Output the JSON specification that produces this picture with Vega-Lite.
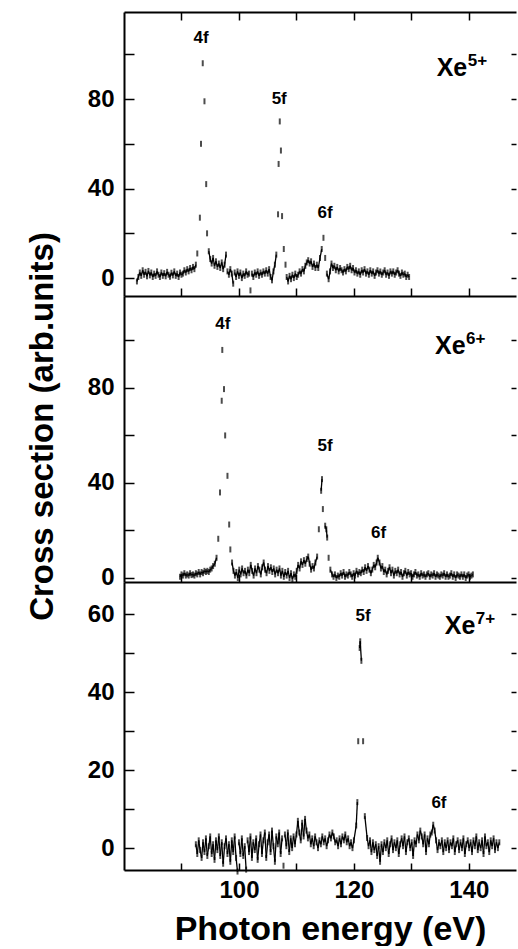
{
  "$schema": "https://vega.github.io/schema/vega-lite/v6.json",
  "padding": {"left": 26, "top": 11, "right": 0, "bottom": 0},
  "spacing": 0,
  "bounds": "flush",
  "config": {
    "view": {"stroke": null},
    "axis": {"labelFont": "Liberation Sans", "labelFontWeight": "bold", "titleFont": "Liberation Sans", "titleFontWeight": "bold", "domainColor": "black", "tickColor": "black", "labelColor": "black", "titleColor": "black", "grid": false, "labelFlush": false, "labelOverlap": false},
    "text": {"font": "Liberation Sans", "fontWeight": "bold", "color": "black"}
  },
  "datasets": {
    "xe5": [
      {"e":82.25,"s":-1.5},{"e":82.5,"s":0.5},{"e":82.75,"s":2.5},{"e":83,"s":1},{"e":83.25,"s":3.5},{"e":83.5,"s":1.5},{"e":83.75,"s":2.8},{"e":84,"s":0.8},{"e":84.25,"s":3.2},{"e":84.5,"s":1.2},{"e":84.75,"s":2.5},{"e":85,"s":0.5},{"e":85.25,"s":2},{"e":85.5,"s":1},{"e":85.75,"s":3},{"e":86,"s":1.5},{"e":86.25,"s":0.5},{"e":86.5,"s":2.5},{"e":86.75,"s":1},{"e":87,"s":2.2},{"e":87.25,"s":0.8},{"e":87.5,"s":2.8},{"e":87.75,"s":1.5},{"e":88,"s":0.6},{"e":88.25,"s":2.4},{"e":88.5,"s":1.2},{"e":88.75,"s":3},{"e":89,"s":1},{"e":89.25,"s":2},{"e":89.5,"s":0.5},{"e":89.75,"s":2.5},{"e":90,"s":1.5},{"e":90.25,"s":2},{"e":90.5,"s":3.5},{"e":90.75,"s":2.5},{"e":91,"s":4},{"e":91.25,"s":3},{"e":91.5,"s":4.5},{"e":91.75,"s":3.5},{"e":92,"s":5},{"e":92.25,"s":4},{"e":92.5,"s":6},{"e":92.75,"s":11},{"e":93.2,"s":27},{"e":93.4,"s":60},{"e":93.7,"s":96},{"e":94,"s":79},{"e":94.3,"s":42},{"e":94.45,"s":20},{"e":94.75,"s":12},{"e":95,"s":8.5},{"e":95.25,"s":6.5},{"e":95.5,"s":9},{"e":95.75,"s":5.5},{"e":96,"s":7.5},{"e":96.25,"s":5},{"e":96.5,"s":6.5},{"e":96.75,"s":4.5},{"e":97,"s":7},{"e":97.25,"s":4},{"e":97.5,"s":6},{"e":97.75,"s":10.5},{"e":98,"s":3},{"e":98.25,"s":1.5},{"e":98.5,"s":4},{"e":98.75,"s":2},{"e":99,"s":-2.5},{"e":99.25,"s":2.5},{"e":99.5,"s":0.5},{"e":99.75,"s":3},{"e":100,"s":1},{"e":100.25,"s":2.5},{"e":100.5,"s":0},{"e":100.75,"s":2},{"e":101,"s":1},{"e":101.25,"s":3},{"e":101.5,"s":1.5},{"e":101.75,"s":2},{"e":102,"s":-5.5},{"e":102.25,"s":2},{"e":102.5,"s":0.5},{"e":102.75,"s":2.5},{"e":103,"s":1.5},{"e":103.25,"s":3},{"e":103.5,"s":1},{"e":103.75,"s":2.5},{"e":104,"s":1.5},{"e":104.25,"s":3},{"e":104.5,"s":2},{"e":104.75,"s":3.5},{"e":105,"s":2},{"e":105.25,"s":4},{"e":105.5,"s":0.5},{"e":105.75,"s":-1},{"e":106,"s":3},{"e":106.25,"s":6},{"e":106.5,"s":10.5},{"e":106.8,"s":28.5},{"e":106.9,"s":51},{"e":107.1,"s":70},{"e":107.3,"s":57},{"e":107.5,"s":27.7},{"e":107.8,"s":13},{"e":108.1,"s":6},{"e":108.3,"s":0.5},{"e":108.55,"s":-1.5},{"e":108.8,"s":1},{"e":109.05,"s":-0.5},{"e":109.3,"s":1.5},{"e":109.55,"s":0},{"e":109.8,"s":2},{"e":110.05,"s":0.5},{"e":110.3,"s":1.5},{"e":110.55,"s":3},{"e":110.8,"s":2},{"e":111.05,"s":4},{"e":111.3,"s":3},{"e":111.55,"s":5.5},{"e":111.8,"s":7},{"e":112.05,"s":8},{"e":112.3,"s":6.5},{"e":112.55,"s":7.5},{"e":112.8,"s":5},{"e":113.05,"s":6.5},{"e":113.3,"s":4.5},{"e":113.55,"s":6},{"e":113.8,"s":4.5},{"e":114.1,"s":9},{"e":114.4,"s":13},{"e":114.7,"s":18},{"e":115,"s":9},{"e":115.3,"s":2},{"e":115.6,"s":-0.5},{"e":115.85,"s":3},{"e":116.1,"s":6.5},{"e":116.35,"s":4.5},{"e":116.6,"s":5.5},{"e":116.85,"s":3.5},{"e":117.1,"s":5},{"e":117.35,"s":3},{"e":117.6,"s":4.5},{"e":117.85,"s":3.5},{"e":118.1,"s":2.5},{"e":118.35,"s":4},{"e":118.6,"s":3},{"e":118.85,"s":5},{"e":119.1,"s":4},{"e":119.35,"s":5.5},{"e":119.6,"s":3.5},{"e":119.85,"s":4.5},{"e":120.1,"s":2.5},{"e":120.35,"s":3.5},{"e":120.6,"s":2},{"e":120.85,"s":3},{"e":121.1,"s":1.5},{"e":121.35,"s":3.5},{"e":121.6,"s":2.5},{"e":121.85,"s":4},{"e":122.1,"s":2},{"e":122.35,"s":3},{"e":122.6,"s":1.5},{"e":122.85,"s":3.5},{"e":123.1,"s":2},{"e":123.35,"s":3},{"e":123.6,"s":1},{"e":123.85,"s":2.5},{"e":124.1,"s":3.5},{"e":124.35,"s":2},{"e":124.6,"s":3},{"e":124.85,"s":1.5},{"e":125.1,"s":2.5},{"e":125.35,"s":3.5},{"e":125.6,"s":1.5},{"e":125.85,"s":2.5},{"e":126.1,"s":1},{"e":126.35,"s":3},{"e":126.6,"s":2},{"e":126.85,"s":3},{"e":127.1,"s":1.5},{"e":127.35,"s":2.5},{"e":127.6,"s":3.5},{"e":127.85,"s":2},{"e":128.1,"s":1},{"e":128.35,"s":2.5},{"e":128.6,"s":1.5},{"e":128.85,"s":2},{"e":129.1,"s":0.5},{"e":129.35,"s":1.5},{"e":129.6,"s":0.5}
    ],
    "xe6": [
      {"e":89.75,"s":0.5},{"e":90,"s":1.5},{"e":90.25,"s":1},{"e":90.5,"s":2},{"e":90.75,"s":1},{"e":91,"s":1.5},{"e":91.25,"s":1},{"e":91.5,"s":2},{"e":91.75,"s":1.2},{"e":92,"s":1.5},{"e":92.25,"s":1},{"e":92.5,"s":2},{"e":92.75,"s":1.5},{"e":93,"s":2.5},{"e":93.25,"s":1.5},{"e":93.5,"s":2.5},{"e":93.75,"s":2},{"e":94,"s":3},{"e":94.25,"s":2.5},{"e":94.5,"s":3},{"e":94.75,"s":2.5},{"e":95,"s":3.5},{"e":95.25,"s":4},{"e":95.5,"s":5},{"e":95.8,"s":6},{"e":96.1,"s":8.5},{"e":96.4,"s":16.5},{"e":96.7,"s":36},{"e":97,"s":74.6},{"e":97.1,"s":96},{"e":97.4,"s":79.5},{"e":97.6,"s":60},{"e":98,"s":43},{"e":98.3,"s":22.5},{"e":98.5,"s":12},{"e":98.8,"s":6.5},{"e":99.05,"s":3},{"e":99.3,"s":1},{"e":99.55,"s":2.5},{"e":99.8,"s":0},{"e":100.05,"s":3.5},{"e":100.3,"s":1.5},{"e":100.55,"s":4},{"e":100.8,"s":2},{"e":101.05,"s":3},{"e":101.3,"s":1},{"e":101.55,"s":3.5},{"e":101.8,"s":2},{"e":102.05,"s":5.5},{"e":102.3,"s":3},{"e":102.55,"s":1},{"e":102.8,"s":4},{"e":103.05,"s":2},{"e":103.3,"s":5},{"e":103.55,"s":3.5},{"e":103.8,"s":1.5},{"e":104.05,"s":4.5},{"e":104.3,"s":6.5},{"e":104.55,"s":3.5},{"e":104.8,"s":2},{"e":105.05,"s":5},{"e":105.3,"s":3},{"e":105.55,"s":4.5},{"e":105.8,"s":2.5},{"e":106.05,"s":4},{"e":106.3,"s":1.5},{"e":106.55,"s":3.5},{"e":106.8,"s":2},{"e":107.05,"s":4},{"e":107.3,"s":1},{"e":107.55,"s":3},{"e":107.8,"s":0.5},{"e":108.05,"s":2.5},{"e":108.3,"s":1},{"e":108.55,"s":3},{"e":108.8,"s":0},{"e":109.05,"s":2},{"e":109.3,"s":-0.5},{"e":109.55,"s":1.5},{"e":109.8,"s":0.5},{"e":110.05,"s":3},{"e":110.3,"s":5.5},{"e":110.55,"s":4},{"e":110.8,"s":7},{"e":111.05,"s":5.5},{"e":111.3,"s":7.5},{"e":111.55,"s":6},{"e":111.8,"s":8},{"e":112.05,"s":9},{"e":112.3,"s":6},{"e":112.55,"s":3.5},{"e":112.8,"s":5},{"e":113.05,"s":4},{"e":113.3,"s":6.5},{"e":113.6,"s":9},{"e":113.9,"s":20.5},{"e":114.3,"s":36.7},{"e":114.45,"s":41.6},{"e":114.6,"s":29},{"e":115,"s":22},{"e":115.2,"s":20.5},{"e":115.35,"s":17},{"e":115.6,"s":8.5},{"e":115.9,"s":3.5},{"e":116.2,"s":1.5},{"e":116.45,"s":0.5},{"e":116.7,"s":1.5},{"e":116.95,"s":0},{"e":117.2,"s":1},{"e":117.45,"s":0.5},{"e":117.7,"s":2},{"e":117.95,"s":1},{"e":118.2,"s":2.5},{"e":118.45,"s":0.5},{"e":118.7,"s":1.5},{"e":118.95,"s":1},{"e":119.2,"s":2.5},{"e":119.45,"s":1.5},{"e":119.7,"s":0.5},{"e":119.95,"s":2},{"e":120.2,"s":1},{"e":120.45,"s":3},{"e":120.7,"s":1.5},{"e":120.95,"s":2.5},{"e":121.2,"s":2},{"e":121.45,"s":3.5},{"e":121.7,"s":2.5},{"e":121.95,"s":4.5},{"e":122.2,"s":3},{"e":122.45,"s":5},{"e":122.7,"s":3.5},{"e":122.95,"s":2},{"e":123.2,"s":3.5},{"e":123.45,"s":5.5},{"e":123.7,"s":4.5},{"e":123.95,"s":6.5},{"e":124.15,"s":8.5},{"e":124.45,"s":6.5},{"e":124.7,"s":4},{"e":124.95,"s":5},{"e":125.2,"s":2.5},{"e":125.45,"s":3.5},{"e":125.7,"s":1.5},{"e":125.95,"s":3},{"e":126.2,"s":4.5},{"e":126.45,"s":2},{"e":126.7,"s":3.5},{"e":126.95,"s":1},{"e":127.2,"s":3},{"e":127.45,"s":2},{"e":127.7,"s":3.5},{"e":127.95,"s":1.5},{"e":128.2,"s":2.5},{"e":128.45,"s":0.5},{"e":128.7,"s":2},{"e":128.95,"s":3},{"e":129.2,"s":1},{"e":129.45,"s":2.5},{"e":129.7,"s":1.5},{"e":129.95,"s":2},{"e":130.2,"s":0.5},{"e":130.45,"s":1.5},{"e":130.7,"s":2.5},{"e":130.95,"s":1},{"e":131.2,"s":1.5},{"e":131.45,"s":0.5},{"e":131.7,"s":2},{"e":131.95,"s":1},{"e":132.2,"s":1.5},{"e":132.45,"s":0.5},{"e":132.7,"s":1.5},{"e":132.95,"s":2},{"e":133.2,"s":0.5},{"e":133.45,"s":1.5},{"e":133.7,"s":1},{"e":133.95,"s":2},{"e":134.2,"s":0.5},{"e":134.45,"s":1.5},{"e":134.7,"s":1},{"e":134.95,"s":0.5},{"e":135.2,"s":1.5},{"e":135.45,"s":1},{"e":135.7,"s":2},{"e":135.95,"s":0.5},{"e":136.2,"s":1.5},{"e":136.45,"s":0.5},{"e":136.7,"s":1},{"e":136.95,"s":2},{"e":137.2,"s":0.5},{"e":137.45,"s":1.5},{"e":137.7,"s":0},{"e":137.95,"s":1.5},{"e":138.2,"s":1},{"e":138.45,"s":0.5},{"e":138.7,"s":1.5},{"e":138.95,"s":0.5},{"e":139.2,"s":1.5},{"e":139.45,"s":0},{"e":139.7,"s":1},{"e":139.95,"s":1.5},{"e":140.2,"s":0.5},{"e":140.45,"s":1},{"e":140.7,"s":1.5}
    ],
    "xe7": [
      {"e":92.5,"s":1},{"e":92.75,"s":-1.5},{"e":93,"s":2},{"e":93.25,"s":-0.5},{"e":93.5,"s":-2.5},{"e":93.75,"s":1.5},{"e":94,"s":-1},{"e":94.25,"s":2.5},{"e":94.5,"s":-2},{"e":94.75,"s":0.5},{"e":95,"s":3},{"e":95.25,"s":-1.5},{"e":95.5,"s":1},{"e":95.75,"s":-3},{"e":96,"s":2},{"e":96.25,"s":-0.5},{"e":96.5,"s":3},{"e":96.75,"s":-2},{"e":97,"s":1.5},{"e":97.25,"s":-4},{"e":97.5,"s":0.5},{"e":97.75,"s":2.5},{"e":98,"s":-1.5},{"e":98.25,"s":1},{"e":98.5,"s":-3.5},{"e":98.75,"s":2},{"e":99,"s":-1},{"e":99.25,"s":3},{"e":99.5,"s":-2.5},{"e":99.75,"s":-6},{"e":100,"s":1.5},{"e":100.25,"s":-1.5},{"e":100.5,"s":2.5},{"e":100.75,"s":-2},{"e":101,"s":0.5},{"e":101.25,"s":-5.5},{"e":101.5,"s":2},{"e":101.75,"s":-1},{"e":102,"s":3},{"e":102.25,"s":-2.5},{"e":102.5,"s":1.5},{"e":102.75,"s":-0.5},{"e":103,"s":2.5},{"e":103.25,"s":-3},{"e":103.5,"s":1},{"e":103.75,"s":3.5},{"e":104,"s":-1.5},{"e":104.25,"s":2},{"e":104.5,"s":4},{"e":104.75,"s":-2.5},{"e":105,"s":1.5},{"e":105.25,"s":3.5},{"e":105.5,"s":-1},{"e":105.75,"s":4.5},{"e":106,"s":0.5},{"e":106.25,"s":-3.5},{"e":106.5,"s":3},{"e":106.75,"s":1},{"e":107,"s":4},{"e":107.25,"s":-1.5},{"e":107.5,"s":2.5},{"e":107.75,"s":-4.5},{"e":108,"s":3.5},{"e":108.25,"s":0.5},{"e":108.5,"s":4},{"e":108.75,"s":-1},{"e":109,"s":2.5},{"e":109.25,"s":0},{"e":109.5,"s":3},{"e":109.75,"s":1},{"e":110,"s":3.5},{"e":110.25,"s":7},{"e":110.5,"s":4},{"e":110.75,"s":2},{"e":111,"s":6.5},{"e":111.25,"s":3},{"e":111.5,"s":7.5},{"e":111.75,"s":4.5},{"e":112,"s":2.5},{"e":112.25,"s":3.5},{"e":112.5,"s":1},{"e":112.75,"s":2.5},{"e":113,"s":0.5},{"e":113.25,"s":3},{"e":113.5,"s":1.5},{"e":113.75,"s":0},{"e":114,"s":2},{"e":114.25,"s":1},{"e":114.5,"s":3},{"e":114.75,"s":1.5},{"e":115,"s":2.5},{"e":115.25,"s":0.5},{"e":115.5,"s":2},{"e":115.75,"s":3.5},{"e":116,"s":2.5},{"e":116.25,"s":4},{"e":116.5,"s":3},{"e":116.75,"s":1.5},{"e":117,"s":2},{"e":117.25,"s":0.5},{"e":117.5,"s":2.5},{"e":117.75,"s":1},{"e":118,"s":3},{"e":118.25,"s":2},{"e":118.5,"s":3.5},{"e":118.75,"s":1.5},{"e":119,"s":2.5},{"e":119.25,"s":0.5},{"e":119.5,"s":1.5},{"e":119.75,"s":0},{"e":120,"s":2},{"e":120.4,"s":5.8},{"e":120.6,"s":11.8},{"e":120.75,"s":27.4},{"e":121,"s":51.3},{"e":121.1,"s":53},{"e":121.3,"s":48},{"e":121.6,"s":27.4},{"e":121.9,"s":8.2},{"e":122.3,"s":2.6},{"e":122.55,"s":0.5},{"e":122.8,"s":2},{"e":123.05,"s":-1},{"e":123.3,"s":1.5},{"e":123.55,"s":-0.5},{"e":123.8,"s":1},{"e":124.05,"s":-2},{"e":124.3,"s":0.5},{"e":124.55,"s":-3.5},{"e":124.8,"s":1},{"e":125.05,"s":-1},{"e":125.3,"s":1.5},{"e":125.55,"s":0},{"e":125.8,"s":2},{"e":126.05,"s":-1.5},{"e":126.3,"s":1},{"e":126.55,"s":2.5},{"e":126.8,"s":-0.5},{"e":127.05,"s":1.5},{"e":127.3,"s":0},{"e":127.55,"s":2},{"e":127.8,"s":-1.5},{"e":128.05,"s":1},{"e":128.3,"s":2.5},{"e":128.55,"s":0.5},{"e":128.8,"s":3},{"e":129.05,"s":-1},{"e":129.3,"s":1.5},{"e":129.55,"s":2.5},{"e":129.8,"s":0},{"e":130.05,"s":1.5},{"e":130.3,"s":-2},{"e":130.55,"s":2},{"e":130.8,"s":1},{"e":131.05,"s":3.5},{"e":131.3,"s":2},{"e":131.55,"s":4.5},{"e":131.8,"s":3},{"e":132.05,"s":1},{"e":132.3,"s":3.5},{"e":132.55,"s":-1},{"e":132.8,"s":2.5},{"e":133.05,"s":1},{"e":133.3,"s":3.5},{"e":133.55,"s":4},{"e":133.8,"s":6},{"e":134.05,"s":4.5},{"e":134.3,"s":2},{"e":134.55,"s":-0.5},{"e":134.8,"s":1.5},{"e":135.05,"s":0.5},{"e":135.3,"s":2},{"e":135.55,"s":-1},{"e":135.8,"s":1.5},{"e":136.05,"s":0},{"e":136.3,"s":2},{"e":136.55,"s":-0.5},{"e":136.8,"s":1.5},{"e":137.05,"s":0.5},{"e":137.3,"s":2.5},{"e":137.55,"s":-1},{"e":137.8,"s":1},{"e":138.05,"s":2},{"e":138.3,"s":-0.5},{"e":138.55,"s":1.5},{"e":138.8,"s":0},{"e":139.05,"s":2.5},{"e":139.3,"s":-1.5},{"e":139.55,"s":1},{"e":139.8,"s":2},{"e":140.05,"s":0},{"e":140.3,"s":1.5},{"e":140.55,"s":-1},{"e":140.8,"s":2},{"e":141.05,"s":0.5},{"e":141.3,"s":3},{"e":141.55,"s":-0.5},{"e":141.8,"s":1.5},{"e":142.05,"s":0},{"e":142.3,"s":2},{"e":142.55,"s":-1.5},{"e":142.8,"s":3},{"e":143.05,"s":0.5},{"e":143.3,"s":1.5},{"e":143.55,"s":-1},{"e":143.8,"s":2},{"e":144.05,"s":0.5},{"e":144.3,"s":2.5},{"e":144.55,"s":-0.5},{"e":144.8,"s":1.5},{"e":145.05,"s":0},{"e":145.3,"s":1.5}
    ]
  },
  "vconcat": [
    {
      "width": 392, "height": 284,
      "data": {"name": "xe5"},
      "resolve": {"axis": {"x": "independent", "y": "independent"}},
      "layer": [
        {
          "transform": [
            {"window": [{"op": "lag", "field": "s", "as": "ps"}, {"op": "lag", "field": "e", "as": "pe"}], "sort": [{"field": "e"}]},
            {"filter": "datum.ps != null && abs(datum.s - datum.ps) < 5"}
          ],
          "mark": {"type": "rule", "color": "black", "strokeWidth": 1.3},
          "encoding": {
            "x": {"field": "pe", "type": "quantitative", "scale": {"domain": [80, 148.2], "nice": false, "zero": false},
                  "axis": {"orient": "bottom", "values": [90,100,110,120,130,140], "tickSize": -8, "tickWidth": 1.5, "domainWidth": 2, "labels": false, "title": null}},
            "x2": {"field": "e"},
            "y": {"field": "ps", "type": "quantitative", "scale": {"domain": [-8, 118.9], "nice": false, "zero": false},
                  "axis": {"orient": "left", "values": [0,20,40,60,80,100], "tickSize": -10, "tickWidth": 1.5, "domainWidth": 2, "labelFontSize": 24, "labelPadding": 20, "labelExpr": "datum.value % 40 == 0 ? datum.label : ''", "title": null}},
            "y2": {"field": "s"}
          }
        },
        {
          "mark": {"type": "tick", "orient": "vertical", "size": 6, "thickness": 2, "color": "black"},
          "encoding": {
            "x": {"field": "e", "type": "quantitative", "axis": {"orient": "top", "values": [90,100,110,120,130,140], "tickSize": -8, "tickWidth": 1.5, "domainWidth": 2, "labels": false, "title": null}},
            "y": {"field": "s", "type": "quantitative", "axis": {"orient": "right", "values": [0,20,40,60,80,100], "tickSize": -5, "tickWidth": 1.5, "domain": false, "labels": false, "title": null}}
          }
        },
        {
          "data": {"values": [{"t": "4f", "e": 93.4, "s": 105}, {"t": "5f", "e": 107.0, "s": 77.7}, {"t": "6f", "e": 115.0, "s": 26.8}]},
          "mark": {"type": "text", "fontSize": 17, "align": "center", "baseline": "alphabetic"},
          "encoding": {"x": {"field": "e", "type": "quantitative", "axis": null}, "y": {"field": "s", "type": "quantitative", "axis": null}, "text": {"field": "t"}}
        },
        {
          "data": {"values": [{"ion": "Xe", "q": "5+", "e": 134.4, "s": 90.2}]},
          "layer": [
            {"mark": {"type": "text", "fontSize": 25, "align": "left", "baseline": "alphabetic"},
             "encoding": {"x": {"field": "e", "type": "quantitative", "axis": null}, "y": {"field": "s", "type": "quantitative", "axis": null}, "text": {"field": "ion"}}},
            {"mark": {"type": "text", "fontSize": 17, "align": "left", "baseline": "alphabetic", "dx": 31, "dy": -10},
             "encoding": {"x": {"field": "e", "type": "quantitative", "axis": null}, "y": {"field": "s", "type": "quantitative", "axis": null}, "text": {"field": "q"}}}
          ]
        }
      ]
    },
    {
      "width": 392, "height": 286,
      "data": {"name": "xe6"},
      "resolve": {"axis": {"x": "independent", "y": "independent"}},
      "layer": [
        {
          "transform": [
            {"window": [{"op": "lag", "field": "s", "as": "ps"}, {"op": "lag", "field": "e", "as": "pe"}], "sort": [{"field": "e"}]},
            {"filter": "datum.ps != null && abs(datum.s - datum.ps) < 5"}
          ],
          "mark": {"type": "rule", "color": "black", "strokeWidth": 1.3},
          "encoding": {
            "x": {"field": "pe", "type": "quantitative", "scale": {"domain": [80, 148.2], "nice": false, "zero": false},
                  "axis": {"orient": "bottom", "values": [90,100,110,120,130,140], "tickSize": -8, "tickWidth": 1.5, "domainWidth": 2, "labels": false, "title": null}},
            "x2": {"field": "e"},
            "y": {"field": "ps", "type": "quantitative", "scale": {"domain": [-1.7, 118.7], "nice": false, "zero": false},
                  "axis": {"orient": "left", "values": [0,20,40,60,80,100], "tickSize": -10, "tickWidth": 1.5, "domainWidth": 2, "labelFontSize": 24, "labelPadding": 20, "labelExpr": "datum.value % 40 == 0 ? datum.label : ''",
                           "title": "Cross section (arb.units)", "titleFontSize": 33, "titlePadding": 28, "titleY": 130}},
            "y2": {"field": "s"}
          }
        },
        {
          "mark": {"type": "tick", "orient": "vertical", "size": 6, "thickness": 2, "color": "black"},
          "encoding": {
            "x": {"field": "e", "type": "quantitative", "axis": null},
            "y": {"field": "s", "type": "quantitative", "axis": {"orient": "right", "values": [0,20,40,60,80,100], "tickSize": -5, "tickWidth": 1.5, "domain": false, "labels": false, "title": null}}
          }
        },
        {
          "data": {"values": [{"t": "4f", "e": 97.2, "s": 104.8}, {"t": "5f", "e": 115.0, "s": 53.5}, {"t": "6f", "e": 124.3, "s": 16.8}]},
          "mark": {"type": "text", "fontSize": 17, "align": "center", "baseline": "alphabetic"},
          "encoding": {"x": {"field": "e", "type": "quantitative", "axis": null}, "y": {"field": "s", "type": "quantitative", "axis": null}, "text": {"field": "t"}}
        },
        {
          "data": {"values": [{"ion": "Xe", "q": "6+", "e": 134.1, "s": 94.3}]},
          "layer": [
            {"mark": {"type": "text", "fontSize": 25, "align": "left", "baseline": "alphabetic"},
             "encoding": {"x": {"field": "e", "type": "quantitative", "axis": null}, "y": {"field": "s", "type": "quantitative", "axis": null}, "text": {"field": "ion"}}},
            {"mark": {"type": "text", "fontSize": 17, "align": "left", "baseline": "alphabetic", "dx": 31, "dy": -10},
             "encoding": {"x": {"field": "e", "type": "quantitative", "axis": null}, "y": {"field": "s", "type": "quantitative", "axis": null}, "text": {"field": "q"}}}
          ]
        }
      ]
    },
    {
      "width": 392, "height": 288,
      "data": {"name": "xe7"},
      "resolve": {"axis": {"x": "independent", "y": "independent"}},
      "layer": [
        {
          "transform": [
            {"window": [{"op": "lag", "field": "s", "as": "ps"}, {"op": "lag", "field": "e", "as": "pe"}], "sort": [{"field": "e"}]},
            {"filter": "datum.ps != null && abs(datum.s - datum.ps) < 7"}
          ],
          "mark": {"type": "rule", "color": "black", "strokeWidth": 1.3},
          "encoding": {
            "x": {"field": "pe", "type": "quantitative", "scale": {"domain": [80, 148.2], "nice": false, "zero": false},
                  "axis": {"orient": "bottom", "values": [90,100,110,120,130,140], "tickSize": -7, "tickWidth": 1.5, "domainWidth": 2, "labelFontSize": 24, "labelPadding": 15, "labelExpr": "datum.value % 20 == 0 ? datum.label : ''",
                           "title": "Photon energy (eV)", "titleFontSize": 34, "titlePadding": 10, "titleX": 206}},
            "x2": {"field": "e"},
            "y": {"field": "ps", "type": "quantitative", "scale": {"domain": [-5.6, 68.2], "nice": false, "zero": false},
                  "axis": {"orient": "left", "values": [0,10,20,30,40,50,60], "tickSize": -10, "tickWidth": 1.5, "domainWidth": 2, "labelFontSize": 24, "labelPadding": 20, "labelExpr": "datum.value % 20 == 0 ? datum.label : ''", "title": null}},
            "y2": {"field": "s"}
          }
        },
        {
          "mark": {"type": "tick", "orient": "vertical", "size": 6, "thickness": 2, "color": "black"},
          "encoding": {
            "x": {"field": "e", "type": "quantitative", "axis": null},
            "y": {"field": "s", "type": "quantitative", "axis": {"orient": "right", "values": [0,10,20,30,40,50,60], "tickSize": -5, "tickWidth": 1.5, "domain": false, "labels": false, "title": null}}
          }
        },
        {
          "data": {"values": [{"t": "5f", "e": 121.6, "s": 58.2}, {"t": "6f", "e": 134.8, "s": 10.3}]},
          "mark": {"type": "text", "fontSize": 17, "align": "center", "baseline": "alphabetic"},
          "encoding": {"x": {"field": "e", "type": "quantitative", "axis": null}, "y": {"field": "s", "type": "quantitative", "axis": null}, "text": {"field": "t"}}
        },
        {
          "data": {"values": [{"ion": "Xe", "q": "7+", "e": 135.8, "s": 54.9}]},
          "layer": [
            {"mark": {"type": "text", "fontSize": 25, "align": "left", "baseline": "alphabetic"},
             "encoding": {"x": {"field": "e", "type": "quantitative", "axis": null}, "y": {"field": "s", "type": "quantitative", "axis": null}, "text": {"field": "ion"}}},
            {"mark": {"type": "text", "fontSize": 17, "align": "left", "baseline": "alphabetic", "dx": 31, "dy": -10},
             "encoding": {"x": {"field": "e", "type": "quantitative", "axis": null}, "y": {"field": "s", "type": "quantitative", "axis": null}, "text": {"field": "q"}}}
          ]
        }
      ]
    }
  ]
}
